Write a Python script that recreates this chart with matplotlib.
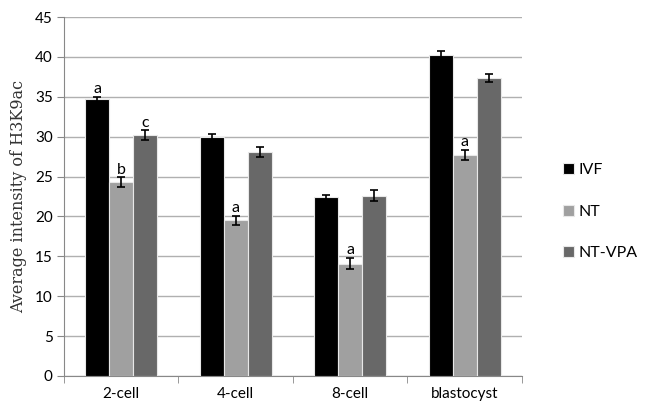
import numpy as np
import matplotlib
matplotlib.use("Agg")
import matplotlib.pyplot as plt

# data
stages = ["2-cell", "4-cell", "8-cell", "blastocyst"]
groups = ["IVF", "NT", "NT-VPA"]
ivf = [34.7, 30.0, 22.4, 40.2]
nt = [24.3, 19.5, 14.1, 27.7]
nt_vpa = [30.2, 28.1, 22.6, 37.4]
ivf_err = [0.3, 0.4, 0.3, 0.5]
nt_err = [0.6, 0.6, 0.7, 0.6]
nt_vpa_err = [0.6, 0.6, 0.7, 0.5]
# significance letters: (stage index, group index, letter)
letters = [(0, 0, "a"), (0, 1, "b"), (0, 2, "c"), (1, 1, "a"), (2, 1, "a"), (3, 1, "a")]

colors = ["#000000", "#a0a0a0", "#686868"]
values = [ivf, nt, nt_vpa]
errors = [ivf_err, nt_err, nt_vpa_err]

plt.rcParams["font.family"] = ["Lato", "DejaVu Sans"]

fig = plt.figure(figsize=(6.45, 4.07), dpi=100)
ax = fig.add_axes([0.0992, 0.0762, 0.7098, 0.8818])

x = np.arange(len(stages))
w = 0.21
for i, (vals, errs, c) in enumerate(zip(values, errors, colors)):
    pos = x + (i - 1) * w
    ax.bar(pos, vals, w, color=c, edgecolor="#e8e8e8", linewidth=0.8,
           label=groups[i], zorder=3)
    ax.errorbar(pos, vals, yerr=errs, fmt="none", ecolor="black",
                elinewidth=1.2, capsize=3, capthick=1.2, zorder=4)

for si, gi, lt in letters:
    ax.text(x[si] + (gi - 1) * w, values[gi][si] + errors[gi][si] + 0.1, lt,
            ha="center", va="bottom", fontsize=11.5, zorder=5)

ax.set_xlim(-0.5, len(stages) - 0.5)
ax.set_ylim(0, 45)
ax.set_yticks(np.arange(0, 46, 5))
ax.yaxis.grid(True, color="#b0b0b0", linewidth=1.0, zorder=0)
ax.set_axisbelow(True)

ax.set_xticks(x)
ax.set_xticklabels(stages)
ax.set_xticks(np.arange(-0.5, len(stages), 1), minor=True)
ax.tick_params(axis="x", which="major", length=0, pad=8, labelsize=11)
ax.tick_params(axis="x", which="minor", length=5, color="#888888")
ax.tick_params(axis="y", length=5, color="#888888", labelsize=11, pad=3)

for s in ["top", "right"]:
    ax.spines[s].set_visible(False)
for s in ["left", "bottom"]:
    ax.spines[s].set_color("#888888")

ax.set_ylabel("Average intensity of H3K9ac", family=["DejaVu Serif"],
              fontsize=11.5, color="#333333", labelpad=6)

fig.legend(loc="center left", bbox_to_anchor=(0.85, 0.48), frameon=False,
           fontsize=11.5, handlelength=0.7, handleheight=0.7, handletextpad=0.3,
           labelspacing=1.7)

fig.savefig("out.png", dpi=100)
